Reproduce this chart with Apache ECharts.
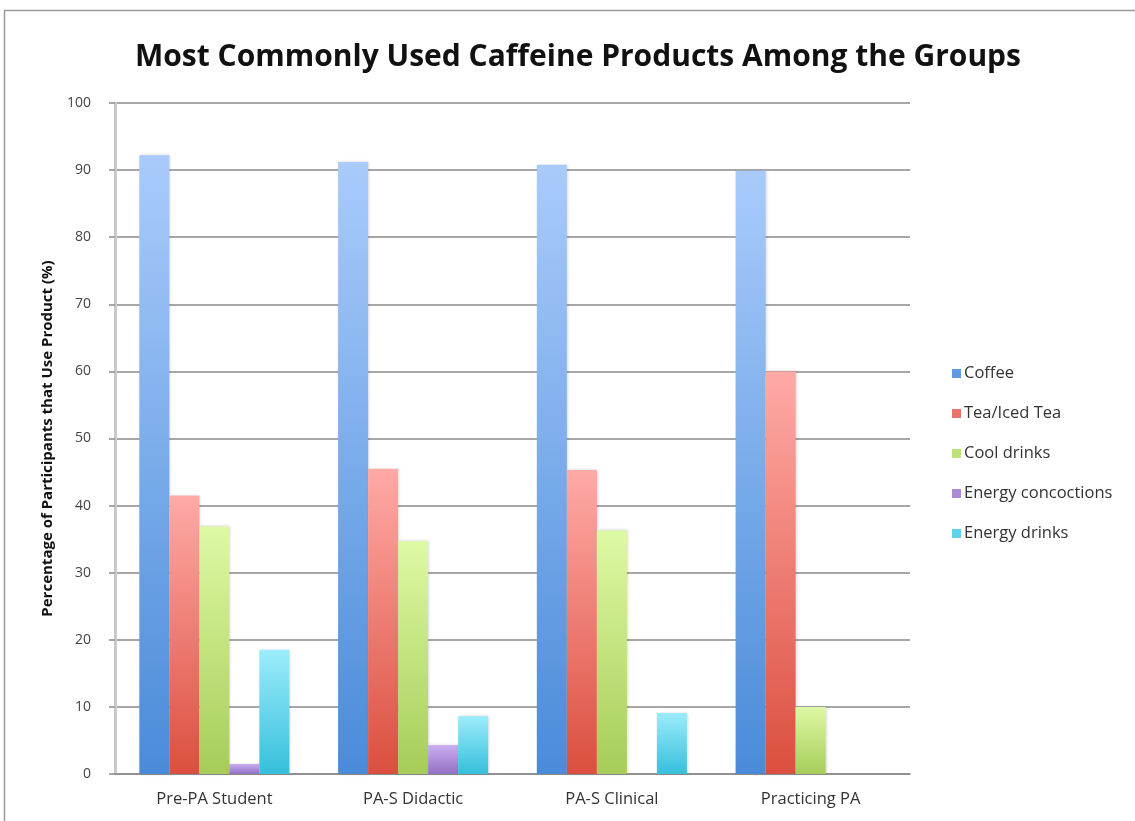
<!DOCTYPE html>
<html>
<head>
<meta charset="utf-8">
<script src="https://cdn.jsdelivr.net/npm/echarts@6/dist/echarts.min.js"></script>
<style>
  html, body { margin: 0; padding: 0; background: #fff; }
  #chart { width: 1135px; height: 821px; }
</style>
</head>
<body>
<div id="chart"></div>
<script>
// Groups on the category axis
const groups = ['Pre-PA Student', 'PA-S Didactic', 'PA-S Clinical', 'Practicing PA'];

// Share of participants using each product (%)
const coffee = [92.2, 91.2, 90.8, 89.9];
const tea = [41.5, 45.5, 45.3, 60.0];
const coolDrinks = [36.9, 34.7, 36.3, 10.0];
const energyConcoctions = [1.5, 4.3, 0, 0];
const energyDrinks = [18.5, 8.6, 9.1, 0];

const seriesNames = ['Coffee', 'Tea/Iced Tea', 'Cool drinks', 'Energy concoctions', 'Energy drinks'];
const yTicks = [0, 10, 20, 30, 40, 50, 60, 70, 80, 90, 100];

// light top -> deeper bottom gradient per product
const palette = [
  ['#a9cbfb', '#4a8bd9'],
  ['#ffaaa6', '#db4f3f'],
  ['#def9a4', '#a7cc59'],
  ['#cbaef0', '#9270c4'],
  ['#9cecfa', '#36bfdc']
];
const legendSwatch = ['#5f9ae3', '#e8736a', '#bde07a', '#a98bd6', '#5fd3ea'];

const values = [coffee, tea, coolDrinks, energyConcoctions, energyDrinks];

const chart = echarts.init(document.getElementById('chart'));

const series = seriesNames.map((name, i) => ({
  name: name,
  type: 'bar',
  data: values[i],
  barGap: '0%',
  barCategoryGap: '24.5%',
  itemStyle: {
    color: new echarts.graphic.LinearGradient(0, 0, 0, 1, [
      { offset: 0, color: palette[i][0] },
      { offset: 1, color: palette[i][1] }
    ]),
    shadowColor: 'rgba(0,0,0,0.18)',
    shadowBlur: 3,
    shadowOffsetX: 1
  }
}));

chart.setOption({
  animation: false,
  backgroundColor: '#ffffff',
  color: legendSwatch,
  title: {
    text: 'Most Commonly Used Caffeine Products Among the Groups',
    left: 573,
    textAlign: 'center',
    top: 37,
    textStyle: {
      fontFamily: 'Open Sans',
      fontWeight: 'bold',
      fontSize: 30,
      color: '#111'
    }
  },
  legend: {
    orient: 'vertical',
    left: 947,
    top: 360,
    itemGap: 23,
    itemWidth: 9,
    itemHeight: 9,
    icon: 'rect',
    data: seriesNames.map((n, i) => ({ name: n, itemStyle: { color: legendSwatch[i] } })),
    textStyle: { fontFamily: 'Open Sans', fontSize: 16.5, color: '#333', padding: [0, 0, 0, -2] }
  },
  grid: { left: 115, right: 225, top: 103, bottom: 47 },
  xAxis: {
    type: 'category',
    data: groups,
    axisLine: { lineStyle: { color: '#8a8a8a', width: 1.5 } },
    axisTick: { show: false },
    axisLabel: { fontFamily: 'Open Sans', fontSize: 16.5, color: '#333', margin: 17 }
  },
  yAxis: {
    type: 'value',
    min: yTicks[0],
    max: yTicks[yTicks.length - 1],
    interval: 10,
    name: 'Percentage of Participants that Use Product (%)',
    nameLocation: 'middle',
    nameGap: 60,
    nameRotate: 90,
    nameTextStyle: { fontFamily: 'Open Sans', fontSize: 15, fontWeight: 'bold', color: '#111' },
    axisLine: { show: true, lineStyle: { color: '#c9c9c9', width: 3 } },
    axisTick: { show: true, length: 6, lineStyle: { color: '#8a8a8a', width: 1.5 } },
    axisLabel: { fontFamily: 'Open Sans', fontSize: 14, color: '#444', margin: 24 },
    splitLine: { lineStyle: { color: '#8a8a8a', width: 1.5 } }
  },
  graphic: [
    { type: 'line', shape: { x1: 4, y1: 10.5, x2: 1135, y2: 10.5 }, style: { stroke: '#9a9a9a', lineWidth: 1.5 } },
    { type: 'line', shape: { x1: 4.5, y1: 10, x2: 4.5, y2: 821 }, style: { stroke: '#9a9a9a', lineWidth: 1.5 } }
  ],
  series: series
});
</script>
</body>
</html>
